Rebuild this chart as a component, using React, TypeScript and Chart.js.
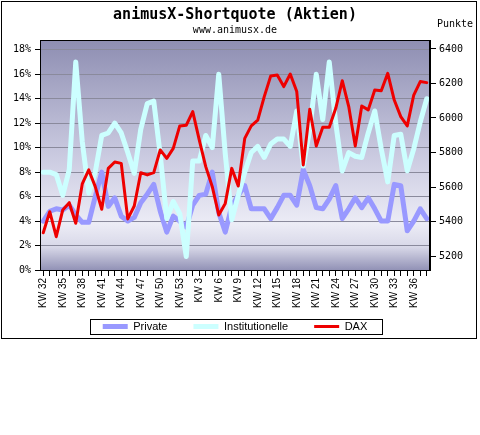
import React, { useEffect, useRef } from 'react';
import { Chart, registerables } from 'chart.js';

Chart.register(...registerables);

const TITLE = 'animusX-Shortquote (Aktien)';
const SUBTITLE = 'www.animusx.de';
const RIGHT_AXIS_TITLE = 'Punkte';

const CATEGORIES = [
  'KW 32', 'KW 33', 'KW 34', 'KW 35', 'KW 36', 'KW 37', 'KW 38', 'KW 39', 'KW 40', 'KW 41',
  'KW 42', 'KW 43', 'KW 44', 'KW 45', 'KW 46', 'KW 47', 'KW 48', 'KW 49', 'KW 50', 'KW 51',
  'KW 52', 'KW 53', 'KW 1', 'KW 2', 'KW 3', 'KW 4', 'KW 5', 'KW 6', 'KW 7', 'KW 8',
  'KW 9', 'KW 10', 'KW 11', 'KW 12', 'KW 13', 'KW 14', 'KW 15', 'KW 16', 'KW 17', 'KW 18',
  'KW 19', 'KW 20', 'KW 21', 'KW 22', 'KW 23', 'KW 24', 'KW 25', 'KW 26', 'KW 27', 'KW 28',
  'KW 29', 'KW 30', 'KW 31', 'KW 32', 'KW 33', 'KW 34', 'KW 35', 'KW 36', 'KW 37', 'KW 38',
];
const LABEL_STEP = 3;

const PRIVATE = [
  4.0, 4.8, 5.0, 4.9, 5.3, 4.5, 3.9, 3.9, 6.0, 8.0,
  5.2, 5.9, 4.4, 4.0, 4.3, 5.5, 6.2, 7.0, 4.8, 3.1,
  4.4, 4.0, 3.5, 5.3, 6.1, 6.2, 8.0, 4.7, 3.1, 5.2,
  6.1, 6.9, 5.0, 5.0, 5.0, 4.2, 5.1, 6.1, 6.1, 5.3,
  8.2, 6.9, 5.1, 5.0, 5.8, 6.9, 4.2, 5.0, 5.9, 5.1,
  5.9, 5.0, 4.0, 4.0, 7.0, 6.9, 3.2, 4.0, 5.0, 4.2,
];

const INSTITUTIONELLE = [
  8.0, 8.0, 7.8, 6.1, 8.2, 17.0, 10.5, 6.3, 8.0, 11.0,
  11.2, 12.0, 11.2, 9.6, 7.9, 11.5, 13.6, 13.8, 9.4, 4.2,
  5.6, 4.6, 1.1, 8.9, 8.9, 11.0, 10.0, 16.0, 9.5, 4.1,
  6.1, 8.0, 9.6, 10.1, 9.2, 10.3, 10.7, 10.7, 10.1, 13.0,
  8.5, 11.5, 16.0, 12.3, 17.0, 12.0, 8.1, 9.6, 9.3, 9.2,
  11.2, 13.0, 9.9, 7.2, 11.0, 11.1, 8.1, 9.9, 12.1, 14.0,
];

const DAX = [
  5335, 5457, 5312, 5467, 5509, 5390, 5618, 5699, 5602, 5471,
  5708, 5745, 5737, 5415, 5490, 5683, 5670, 5683, 5815, 5766,
  5824, 5954, 5958, 6037, 5873, 5718, 5602, 5438, 5505, 5708,
  5606, 5882, 5954, 5988, 6124, 6244, 6249, 6182, 6255, 6153,
  5728, 6050, 5838, 5946, 5946, 6056, 6216, 6066, 5838, 6070,
  6047, 6162, 6158, 6259, 6104, 6008, 5954, 6133, 6211, 6205,
];

const LEFT_TICKS = [0, 2, 4, 6, 8, 10, 12, 14, 16, 18];
const RIGHT_TICKS = [5200, 5400, 5600, 5800, 6000, 6200, 6400];

const PRIVATE_COLOR = '#9999ff';
const INST_COLOR = '#ccffff';
const DAX_COLOR = '#ee0000';
const GRID_COLOR = '#8a8a9c';
const MONO = '"DejaVu Sans Mono", monospace';
const SANS = '"Liberation Sans", Arial, sans-serif';

const PLOT_GRADIENT: [number, string][] = [
  [0, '#8e8eb2'],
  [0.5, '#cacae0'],
  [0.8, '#ececf6'],
  [0.9, '#d8d8e8'],
  [1, '#9292b6'],
];

const LEGEND_LIFT = 16;

const decorPlugin = {
  id: 'decor',
  afterLayout(chart: any) {
    const lg = chart.legend;
    if (lg) {
      lg.top -= LEGEND_LIFT;
      lg.bottom -= LEGEND_LIFT;
    }
  },
  beforeDraw(chart: any) {
    const { ctx, chartArea: a } = chart;
    if (!a) return;
    const g = ctx.createLinearGradient(0, a.top, 0, a.bottom);
    PLOT_GRADIENT.forEach(([s, c]) => g.addColorStop(s, c));
    ctx.save();
    ctx.fillStyle = g;
    ctx.fillRect(a.left, a.top, a.right - a.left, a.bottom - a.top);
    ctx.restore();
  },
  afterDraw(chart: any) {
    const { ctx, chartArea: a } = chart;
    ctx.save();
    ctx.strokeStyle = '#000';
    ctx.lineWidth = 1;
    ctx.strokeRect(Math.round(a.left) + 0.5, Math.round(a.top) + 0.5, Math.round(a.right - a.left) - 1, Math.round(a.bottom - a.top));
    const hb = chart.legend && chart.legend.legendHitBoxes;
    if (hb && hb.length) {
      const l = Math.min(...hb.map((h: any) => h.left)) - 13;
      const r = Math.max(...hb.map((h: any) => h.left + h.width)) + 14;
      const t = hb[0].top - 2;
      const b = hb[0].top + hb[0].height + 2;
      ctx.strokeRect(Math.round(l) + 0.5, Math.round(t) + 0.5, Math.round(r - l), Math.round(b - t));
    }
    const y1 = chart.scales.y1;
    ctx.font = '10px ' + MONO;
    ctx.fillStyle = '#000';
    ctx.textAlign = 'left';
    ctx.textBaseline = 'middle';
    ctx.fillText(RIGHT_AXIS_TITLE, y1.left + 7, a.top - 16);
    ctx.restore();
  },
};

export default function App() {
  const ref = useRef<HTMLCanvasElement>(null);
  useEffect(() => {
    if (!ref.current) return;
    const chart = new Chart(ref.current, {
      type: 'line',
      data: {
        labels: CATEGORIES,
        datasets: [
          {
            label: 'Private',
            data: PRIVATE,
            yAxisID: 'y',
            borderColor: PRIVATE_COLOR,
            backgroundColor: PRIVATE_COLOR,
            borderWidth: 5,
            pointRadius: 0,
            tension: 0,
            borderJoinStyle: 'round',
            borderCapStyle: 'round',
            order: 3,
          },
          {
            label: 'Institutionelle',
            data: INSTITUTIONELLE,
            yAxisID: 'y',
            borderColor: INST_COLOR,
            backgroundColor: INST_COLOR,
            borderWidth: 5,
            pointRadius: 0,
            tension: 0,
            borderJoinStyle: 'round',
            borderCapStyle: 'round',
            order: 2,
          },
          {
            label: 'DAX',
            data: DAX,
            yAxisID: 'y1',
            borderColor: DAX_COLOR,
            backgroundColor: DAX_COLOR,
            borderWidth: 3,
            pointRadius: 0,
            tension: 0,
            borderJoinStyle: 'round',
            borderCapStyle: 'round',
            order: 1,
          },
        ],
      },
      options: {
        animation: false,
        responsive: false,
        devicePixelRatio: 1,
        layout: { padding: { left: 0, right: 10, top: 0, bottom: 77 } },
        scales: {
          x: {
            type: 'category',
            offset: true,
            grid: { display: true, drawOnChartArea: false, drawTicks: true, tickLength: 6, tickColor: '#000', offset: false },
            border: { display: true, color: '#000' },
            ticks: {
              autoSkip: false,
              minRotation: 90,
              maxRotation: 90,
              padding: 2,
              color: '#000',
              font: { family: SANS, size: 10 },
              callback: (_v: any, i: number) => (i % LABEL_STEP === 0 ? CATEGORIES[i] : ''),
            },
            afterFit: (s: any) => { s.height = 41; },
          },
          y: {
            type: 'linear',
            position: 'left',
            min: 0,
            max: 18.8,
            afterBuildTicks: (s: any) => { s.ticks = LEFT_TICKS.map((v) => ({ value: v })); },
            grid: { color: GRID_COLOR, tickColor: '#000', tickLength: 5, drawTicks: true },
            border: { display: true, color: '#000' },
            ticks: {
              padding: 4,
              color: '#000',
              font: { family: MONO, size: 10 },
              callback: (v: any) => v + '%',
            },
            afterFit: (s: any) => { s.width = 40; },
          },
          y1: {
            type: 'linear',
            position: 'right',
            min: 5119,
            max: 6452,
            afterBuildTicks: (s: any) => { s.ticks = RIGHT_TICKS.map((v) => ({ value: v })); },
            grid: { drawOnChartArea: false, tickColor: '#000', tickLength: 6, drawTicks: true },
            border: { display: true, color: '#000' },
            ticks: {
              padding: 3,
              color: '#000',
              font: { family: MONO, size: 10 },
              callback: (v: any) => String(v),
            },
            afterFit: (s: any) => { s.width = 40; },
          },
        },
        plugins: {
          title: {
            display: true,
            text: TITLE,
            color: '#000',
            font: { family: MONO, size: 15, weight: 'bold' },
            padding: { top: 6, bottom: 0 },
          },
          subtitle: {
            display: true,
            text: SUBTITLE,
            color: '#000',
            font: { family: MONO, size: 10 },
            padding: { top: 0, bottom: 4 },
          },
          legend: {
            position: 'bottom',
            labels: {
              usePointStyle: true,
              pointStyle: 'line',
              pointStyleWidth: 25,
              padding: 26,
              color: '#000',
              font: { family: SANS, size: 11 },
              sort: (a: any, b: any) => a.datasetIndex - b.datasetIndex,
            },
          },
          tooltip: { enabled: false },
        },
      } as any,
      plugins: [decorPlugin],
    });
    return () => chart.destroy();
  }, []);

  return (
    <div style={{ position: 'absolute', left: 0, top: 0, width: 480, height: 435, background: '#fff' }}>
      <canvas ref={ref} width={480} height={435} style={{ display: 'block', width: 480, height: 435 }} />
      <div
        style={{
          position: 'absolute',
          left: 1,
          top: 1,
          width: 476,
          height: 338,
          border: '1px solid #000',
          boxSizing: 'border-box',
          pointerEvents: 'none',
        }}
      />
    </div>
  );
}
